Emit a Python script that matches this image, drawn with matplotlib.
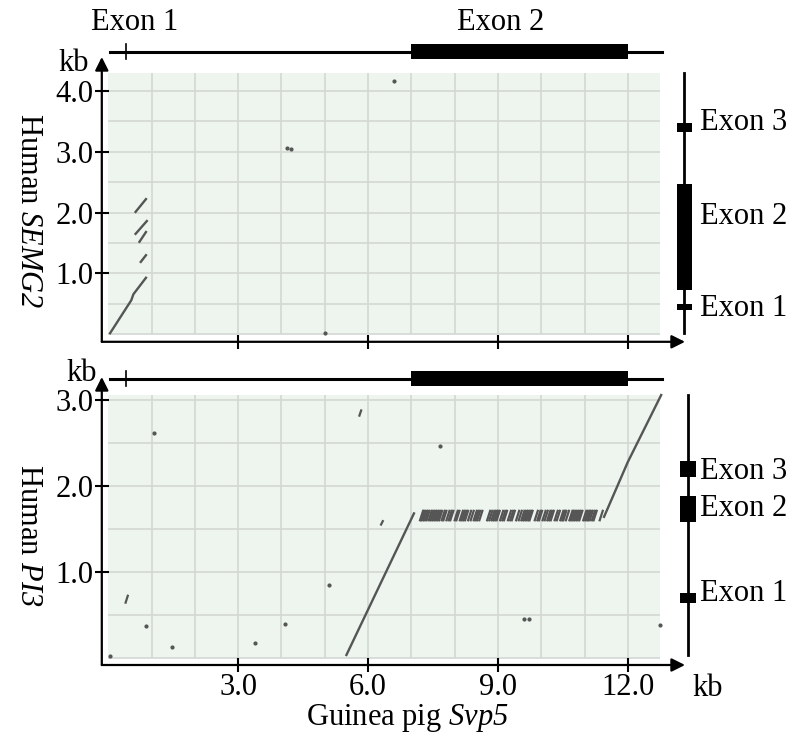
import numpy as np
import matplotlib
matplotlib.use('Agg')
import matplotlib.pyplot as plt
from matplotlib.patches import Rectangle

plt.rcParams['font.family'] = ['Liberation Serif', 'DejaVu Serif']
plt.rcParams['mathtext.fontset'] = 'custom'
# gene names are written with \mathrm, which here maps to the italic face
plt.rcParams['mathtext.rm'] = 'Liberation Serif:italic'
plt.rcParams['mathtext.it'] = 'Liberation Serif:italic'

# ---- data (kb) ----
svp5_len = 12.78
svp5_exon1 = 0.42
svp5_exon2 = (7.0, 12.0)

semg2_len = 4.28
semg2_exons = [(0.40, 0.50), (0.73, 2.47), (3.32, 3.46)]
pi3_len = 3.06
pi3_exons = [(0.63, 0.75), (1.58, 1.88), (2.11, 2.29)]

# top panel: Svp5 vs SEMG2
semg2_main_x = [0.04, 0.53, 0.58, 0.87]
semg2_main_y = [0.02, 0.56, 0.66, 0.93]
semg2_segs = [(0.63, 2.01, 0.87, 2.22), (0.63, 1.65, 0.89, 1.86),
              (0.72, 1.52, 0.87, 1.68), (0.75, 1.19, 0.87, 1.30)]
semg2_dots_x = [4.12, 4.22, 5.00, 6.60]
semg2_dots_y = [3.05, 3.04, 0.02, 4.16]

# bottom panel: Svp5 vs PI3
pi3_line1_x = [5.50, 7.06]
pi3_line1_y = [0.03, 1.68]
pi3_line2_x = [11.45, 12.00, 12.77]
pi3_line2_y = [1.64, 2.28, 3.06]
pi3_repeat_x = [7.20, 7.23, 7.27, 7.31, 7.35,
                7.40, 7.44, 7.48, 7.52, 7.56, 7.60, 7.64,
                7.70, 7.74,
                7.81, 7.86, 7.90,
                8.00, 8.04, 8.12, 8.16, 8.20, 8.24,
                8.31, 8.37, 8.44, 8.48, 8.52, 8.57,
                8.75, 8.80, 8.85, 8.89, 8.93, 8.97,
                9.05, 9.10, 9.14,
                9.23, 9.28, 9.32,
                9.42, 9.48, 9.54, 9.58, 9.62, 9.66, 9.70, 9.73,
                9.85, 9.91, 9.95,
                10.03, 10.08, 10.14, 10.18, 10.22,
                10.31, 10.36,
                10.44, 10.48, 10.51, 10.57, 10.65, 10.68, 10.72, 10.76,
                10.80, 10.84, 10.88, 10.97, 11.01, 11.05, 11.08, 11.12,
                11.17, 11.21,
                11.35]
pi3_repeat_y = 1.60
pi3_short = [(0.40, 0.64, 0.45, 0.72), (5.80, 2.82, 5.84, 2.88), (6.30, 1.55, 6.34, 1.59)]
pi3_dots_x = [1.06, 0.88, 1.46, 3.39, 4.09, 5.09, 7.67, 9.59, 9.72, 12.75, 0.05]
pi3_dots_y = [2.62, 0.37, 0.12, 0.17, 0.39, 0.85, 2.46, 0.45, 0.45, 0.38, 0.02]

BG = '#edf5ee'
GRID = '#d3d8d3'
DOT = '#555555'
W, H = 794, 748

fig = plt.figure(figsize=(W / 100, H / 100), dpi=100)


def px_axes(left, top, right, bottom):
    return fig.add_axes([left / W, 1 - bottom / H, (right - left) / W, (bottom - top) / H])


def setup(ax, ylo, yhi, green_top, yticks):
    ax.set_xlim(-0.15, 13.32)
    ax.set_ylim(ylo, yhi)
    for s in ax.spines.values():
        s.set_visible(False)
    ax.add_patch(Rectangle((0, 0), 12.75, green_top, fc=BG, ec='none', zorder=0))
    ax.vlines(np.arange(1, 13), 0, green_top, color=GRID, lw=1.2, zorder=1)
    ax.hlines(np.arange(0, green_top, 0.5), 0, 12.75, color=GRID, lw=1.2, zorder=1)
    arrow = dict(arrowstyle='-|>', lw=1.6, color='black', mutation_scale=20,
                 shrinkA=0, shrinkB=0)
    ax.annotate('', xy=(1, 0), xytext=(0, 0), xycoords='axes fraction', arrowprops=arrow)
    ax.annotate('', xy=(0, 1), xytext=(0, 0), xycoords='axes fraction', arrowprops=arrow)
    ax.set_xticks([3, 6, 9, 12])
    ax.set_yticks(yticks)
    ax.set_yticklabels(['%.1f' % v for v in yticks])
    ax.tick_params(direction='inout', length=9.5, width=1.5, labelsize=22, pad=1)


# ---- top panel ----
ax1 = px_axes(101.8, 57, 685, 341.8)
setup(ax1, -0.12, 4.55, semg2_len, [1, 2, 3, 4])
ax1.set_xticklabels([])
ax1.plot(semg2_main_x, semg2_main_y, color=DOT, lw=1.7, zorder=3)
for x0, y0, x1, y1 in semg2_segs:
    ax1.plot([x0, x1], [y0, y1], color=DOT, lw=1.7, zorder=3)
ax1.plot(semg2_dots_x, semg2_dots_y, 'o', color=DOT, ms=2, zorder=3)

# gene above (Svp5)
ax1.plot([0.04, svp5_len], [4.64, 4.64], color='black', lw=2.2, clip_on=False)
ax1.add_patch(Rectangle((svp5_exon2[0], 4.64 - 0.123), svp5_exon2[1] - svp5_exon2[0], 0.246,
                        fc='black', ec='none', clip_on=False))
ax1.plot([svp5_exon1, svp5_exon1], [4.52, 4.76], color='black', lw=1.2, clip_on=False)
ax1.text(0.6, 5.11, 'Exon 1', fontsize=22, ha='center', va='center')
ax1.text(9.07, 5.11, 'Exon 2', fontsize=22, ha='center', va='center')
ax1.text(-0.81, 4.45, 'kb', fontsize=22, ha='center', va='center')

# gene right (SEMG2)
ax1.plot([13.30, 13.30], [0.02, semg2_len], color='black', lw=2.0, clip_on=False)
for y0, y1 in semg2_exons:
    ax1.add_patch(Rectangle((13.30 - 0.173, y0), 0.346, y1 - y0, fc='black', ec='none',
                            clip_on=False))
for y, lab in zip([0.43, 1.93, 3.47], ['Exon 1', 'Exon 2', 'Exon 3']):
    ax1.text(13.66, y, lab, fontsize=22, ha='left', va='center')

# ---- bottom panel ----
ax2 = px_axes(101.8, 377, 685, 665)
setup(ax2, -0.087, 3.27, pi3_len, [1, 2, 3])
ax2.set_xticklabels(['3.0', '6.0', '9.0', '12.0'])
ax2.plot(pi3_line1_x, pi3_line1_y, color=DOT, lw=1.7, zorder=3)
ax2.plot(pi3_line2_x, pi3_line2_y, color=DOT, lw=1.7, zorder=3)
for x in pi3_repeat_x:
    ax2.plot([x, x + 0.07], [pi3_repeat_y, pi3_repeat_y + 0.11], color=DOT, lw=1.6, zorder=3)
for x0, y0, x1, y1 in pi3_short:
    ax2.plot([x0, x1], [y0, y1], color=DOT, lw=1.6, zorder=3)
ax2.plot(pi3_dots_x, pi3_dots_y, 'o', color=DOT, ms=2, zorder=3)

ax2.plot([0.04, svp5_len], [3.25, 3.25], color='black', lw=2.2, clip_on=False)
ax2.add_patch(Rectangle((svp5_exon2[0], 3.25 - 0.087), svp5_exon2[1] - svp5_exon2[0], 0.174,
                        fc='black', ec='none', clip_on=False))
ax2.plot([svp5_exon1, svp5_exon1], [3.165, 3.335], color='black', lw=1.2, clip_on=False)
ax2.text(-0.62, 3.31, 'kb', fontsize=22, ha='center', va='center')

ax2.plot([13.39, 13.39], [0.03, pi3_len], color='black', lw=2.0, clip_on=False)
for y0, y1 in pi3_exons:
    ax2.add_patch(Rectangle((13.39 - 0.185, y0), 0.37, y1 - y0, fc='black', ec='none',
                            clip_on=False))
for y, lab in zip([0.75, 1.74, 2.17], ['Exon 1', 'Exon 2', 'Exon 3']):
    ax2.text(13.66, y, lab, fontsize=22, ha='left', va='center')

# axis titles
fig.text(28 / W, 1 - 211 / H, 'Human $\\mathrm{SEMG2}$', fontsize=22, rotation=-90,
         ha='center', va='center')
fig.text(28 / W, 1 - 535 / H, 'Human $\\mathrm{PI3}$', fontsize=22, rotation=-90,
         ha='center', va='center')
fig.text(407 / W, 1 - 718 / H, 'Guinea pig $\\mathrm{Svp5}$', fontsize=22,
         ha='center', va='center')
fig.text(708 / W, 1 - 688 / H, 'kb', fontsize=22, ha='center', va='center')

fig.savefig('out.png', dpi=100)
